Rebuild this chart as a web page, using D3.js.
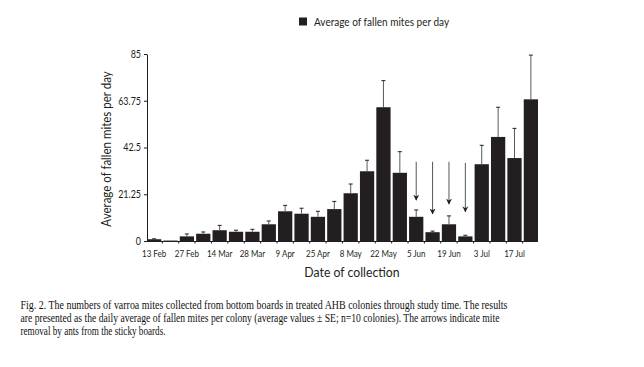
<!DOCTYPE html>
<html>
<head>
<meta charset="utf-8">
<script src="https://cdnjs.cloudflare.com/ajax/libs/d3/7.8.5/d3.min.js"></script>
<style>
  body { margin: 0; background: #fff; }
  svg { display: block; }
</style>
</head>
<body>
<svg id="chart"></svg>
<script>
var width = 644;
var height = 367;

// one entry per collection, only every other one is labelled
var dateLabels = ["13 Feb", "27 Feb", "14 Mar", "28 Mar", "9 Apr", "25 Apr",
  "8 May", "22 May", "5 Jun", "19 Jun", "3 Jul", "17 Jul"];
var meanMites = [0.8, 0.2, 2.1, 3.3, 4.9, 4.2, 4.2, 7.6, 13.5, 12.4, 11.0, 14.5,
  21.7, 31.7, 60.8, 31.0, 11.0, 4.0, 7.6, 2.1, 34.9, 47.3, 37.7, 64.4];
var seMites = [0.2, 0, 1.1, 0.8, 2.2, 0.7, 1.1, 1.5, 2.7, 2.5, 2.5, 3.5,
  4.2, 5.0, 12.1, 9.6, 3.1, 0.5, 3.8, 0.5, 8.6, 13.5, 13.5, 20.1];
var yTicks = [0, 21.25, 42.5, 63.75, 85];

// ant removal arrows: bar index, start value, tip value
var arrowBars = [16, 17, 18, 19];
var arrowStart = [36, 36, 36, 35.5];
var arrowTip = [18.6, 12.3, 16.8, 13.3];

var caption = [
  "Fig. 2. The numbers of varroa mites collected from bottom boards in treated AHB colonies through study time. The results",
  "are presented as the daily average of fallen mites per colony (average values \u00b1 SE; n=10 colonies). The arrows indicate mite",
  "removal by ants from the sticky boards."
];
var captionWidths = [487, 479, 145];

var ink = "#231f20";

var rows = meanMites.map(function (m, i) {
  return { i: i, mean: m, se: seMites[i] };
});

var svg = d3.select("#chart").attr("width", width).attr("height", height);

var x = d3.scaleBand()
  .domain(d3.range(meanMites.length))
  .range([147, 538])
  .paddingInner(0.13)
  .paddingOuter(0);

var y = d3.scaleLinear().domain([0, 85]).range([241, 54]);

function mid(i) {
  return x(i) + x.bandwidth() / 2;
}

// the figure text is a bit condensed, squeeze it horizontally
function narrow(k) {
  return function (sel) {
    sel.each(function () {
      var len = this.getComputedTextLength();
      d3.select(this).attr("textLength", len * k).attr("lengthAdjust", "spacingAndGlyphs");
    });
  };
}

// bars
svg.append("g")
  .selectAll("rect")
  .data(rows)
  .enter()
  .append("rect")
  .attr("x", function (d) { return x(d.i); })
  .attr("y", function (d) { return y(d.mean); })
  .attr("width", x.bandwidth())
  .attr("height", function (d) { return y(0) - y(d.mean); })
  .attr("fill", ink);

// error bars (upper half only)
var err = svg.append("g")
  .selectAll("g")
  .data(rows.filter(function (d) { return d.se > 0; }))
  .enter()
  .append("g");

err.append("line")
  .attr("x1", function (d) { return mid(d.i); })
  .attr("x2", function (d) { return mid(d.i); })
  .attr("y1", function (d) { return y(d.mean); })
  .attr("y2", function (d) { return y(d.mean + d.se); })
  .attr("stroke", "#5a5a5a")
  .attr("stroke-width", 1);

err.append("line")
  .attr("x1", function (d) { return mid(d.i) - 2; })
  .attr("x2", function (d) { return mid(d.i) + 2; })
  .attr("y1", function (d) { return y(d.mean + d.se); })
  .attr("y2", function (d) { return y(d.mean + d.se); })
  .attr("stroke", ink)
  .attr("stroke-width", 1);

// arrows
svg.append("defs").append("marker")
  .attr("id", "head")
  .attr("viewBox", "0 0 10 10")
  .attr("refX", 9)
  .attr("refY", 5)
  .attr("markerWidth", 6)
  .attr("markerHeight", 7)
  .attr("markerUnits", "userSpaceOnUse")
  .attr("orient", "auto")
  .append("path")
  .attr("d", "M0,0 L10,5 L0,10 L3,5 Z")
  .attr("fill", ink);

svg.append("g")
  .selectAll("line")
  .data(arrowBars)
  .enter()
  .append("line")
  .attr("x1", function (d) { return mid(d); })
  .attr("x2", function (d) { return mid(d); })
  .attr("y1", function (d, i) { return y(arrowStart[i]); })
  .attr("y2", function (d, i) { return y(arrowTip[i]); })
  .attr("stroke", "#555")
  .attr("stroke-width", 1)
  .attr("marker-end", "url(#head)");

// y axis
var yAxis = svg.append("g")
  .attr("transform", "translate(147,0)")
  .call(d3.axisLeft(y).tickValues(yTicks).tickSize(3).tickSizeOuter(0).tickPadding(3)
    .tickFormat(function (d) { return d; }));
yAxis.select(".domain").attr("stroke", ink);
yAxis.selectAll(".tick line").attr("stroke", ink);
yAxis.selectAll("text")
  .attr("fill", ink)
  .style("font-family", "Lato, sans-serif")
  .style("font-size", "10.5px")
  .call(narrow(0.85));

// x axis
var xAxis = svg.append("g")
  .attr("transform", "translate(0,241)")
  .call(d3.axisBottom(x)
    .tickValues(d3.range(0, meanMites.length, 2))
    .tickSize(0)
    .tickPadding(9)
    .tickFormat(function (i) { return dateLabels[i / 2]; }));
xAxis.select(".domain").attr("stroke", ink).attr("d", "M147,0.5H538");
xAxis.selectAll("text")
  .attr("fill", ink)
  .style("font-family", "Lato, sans-serif")
  .style("font-size", "10px")
  .call(narrow(0.8));

// small ticks in the gaps between bars
xAxis.append("g")
  .selectAll("line")
  .data(d3.range(1, meanMites.length))
  .enter()
  .append("line")
  .attr("x1", function (i) { return x(i) - x.step() * x.paddingInner() / 2; })
  .attr("x2", function (i) { return x(i) - x.step() * x.paddingInner() / 2; })
  .attr("y1", 0)
  .attr("y2", 2.5)
  .attr("stroke", ink);

// axis titles
svg.append("text")
  .attr("transform", "translate(111,149) rotate(-90)")
  .attr("text-anchor", "middle")
  .attr("fill", ink)
  .style("font-family", "Lato, sans-serif")
  .style("font-size", "12.5px")
  .text("Average of fallen mites per day")
  .call(narrow(0.92));

svg.append("text")
  .attr("x", 352)
  .attr("y", 277)
  .attr("text-anchor", "middle")
  .attr("fill", ink)
  .style("font-family", "Lato, sans-serif")
  .style("font-size", "12.5px")
  .text("Date of collection")
  .call(narrow(0.98));

// legend
svg.append("rect")
  .attr("x", 299)
  .attr("y", 17.5)
  .attr("width", 8)
  .attr("height", 8)
  .attr("fill", ink);

svg.append("text")
  .attr("x", 314)
  .attr("y", 25.5)
  .attr("fill", ink)
  .style("font-family", "Lato, sans-serif")
  .style("font-size", "11.5px")
  .text("Average of fallen mites per day")
  .call(narrow(0.87));

// caption
svg.append("g")
  .selectAll("text")
  .data(caption)
  .enter()
  .append("text")
  .attr("x", 20.5)
  .attr("y", function (d, i) { return 308.5 + i * 13; })
  .attr("textLength", function (d, i) { return captionWidths[i]; })
  .attr("lengthAdjust", "spacingAndGlyphs")
  .attr("fill", "#111")
  .style("font-family", "'Liberation Serif', 'Times New Roman', serif")
  .style("font-size", "12px")
  .text(function (d) { return d; });
</script>
</body>
</html>
